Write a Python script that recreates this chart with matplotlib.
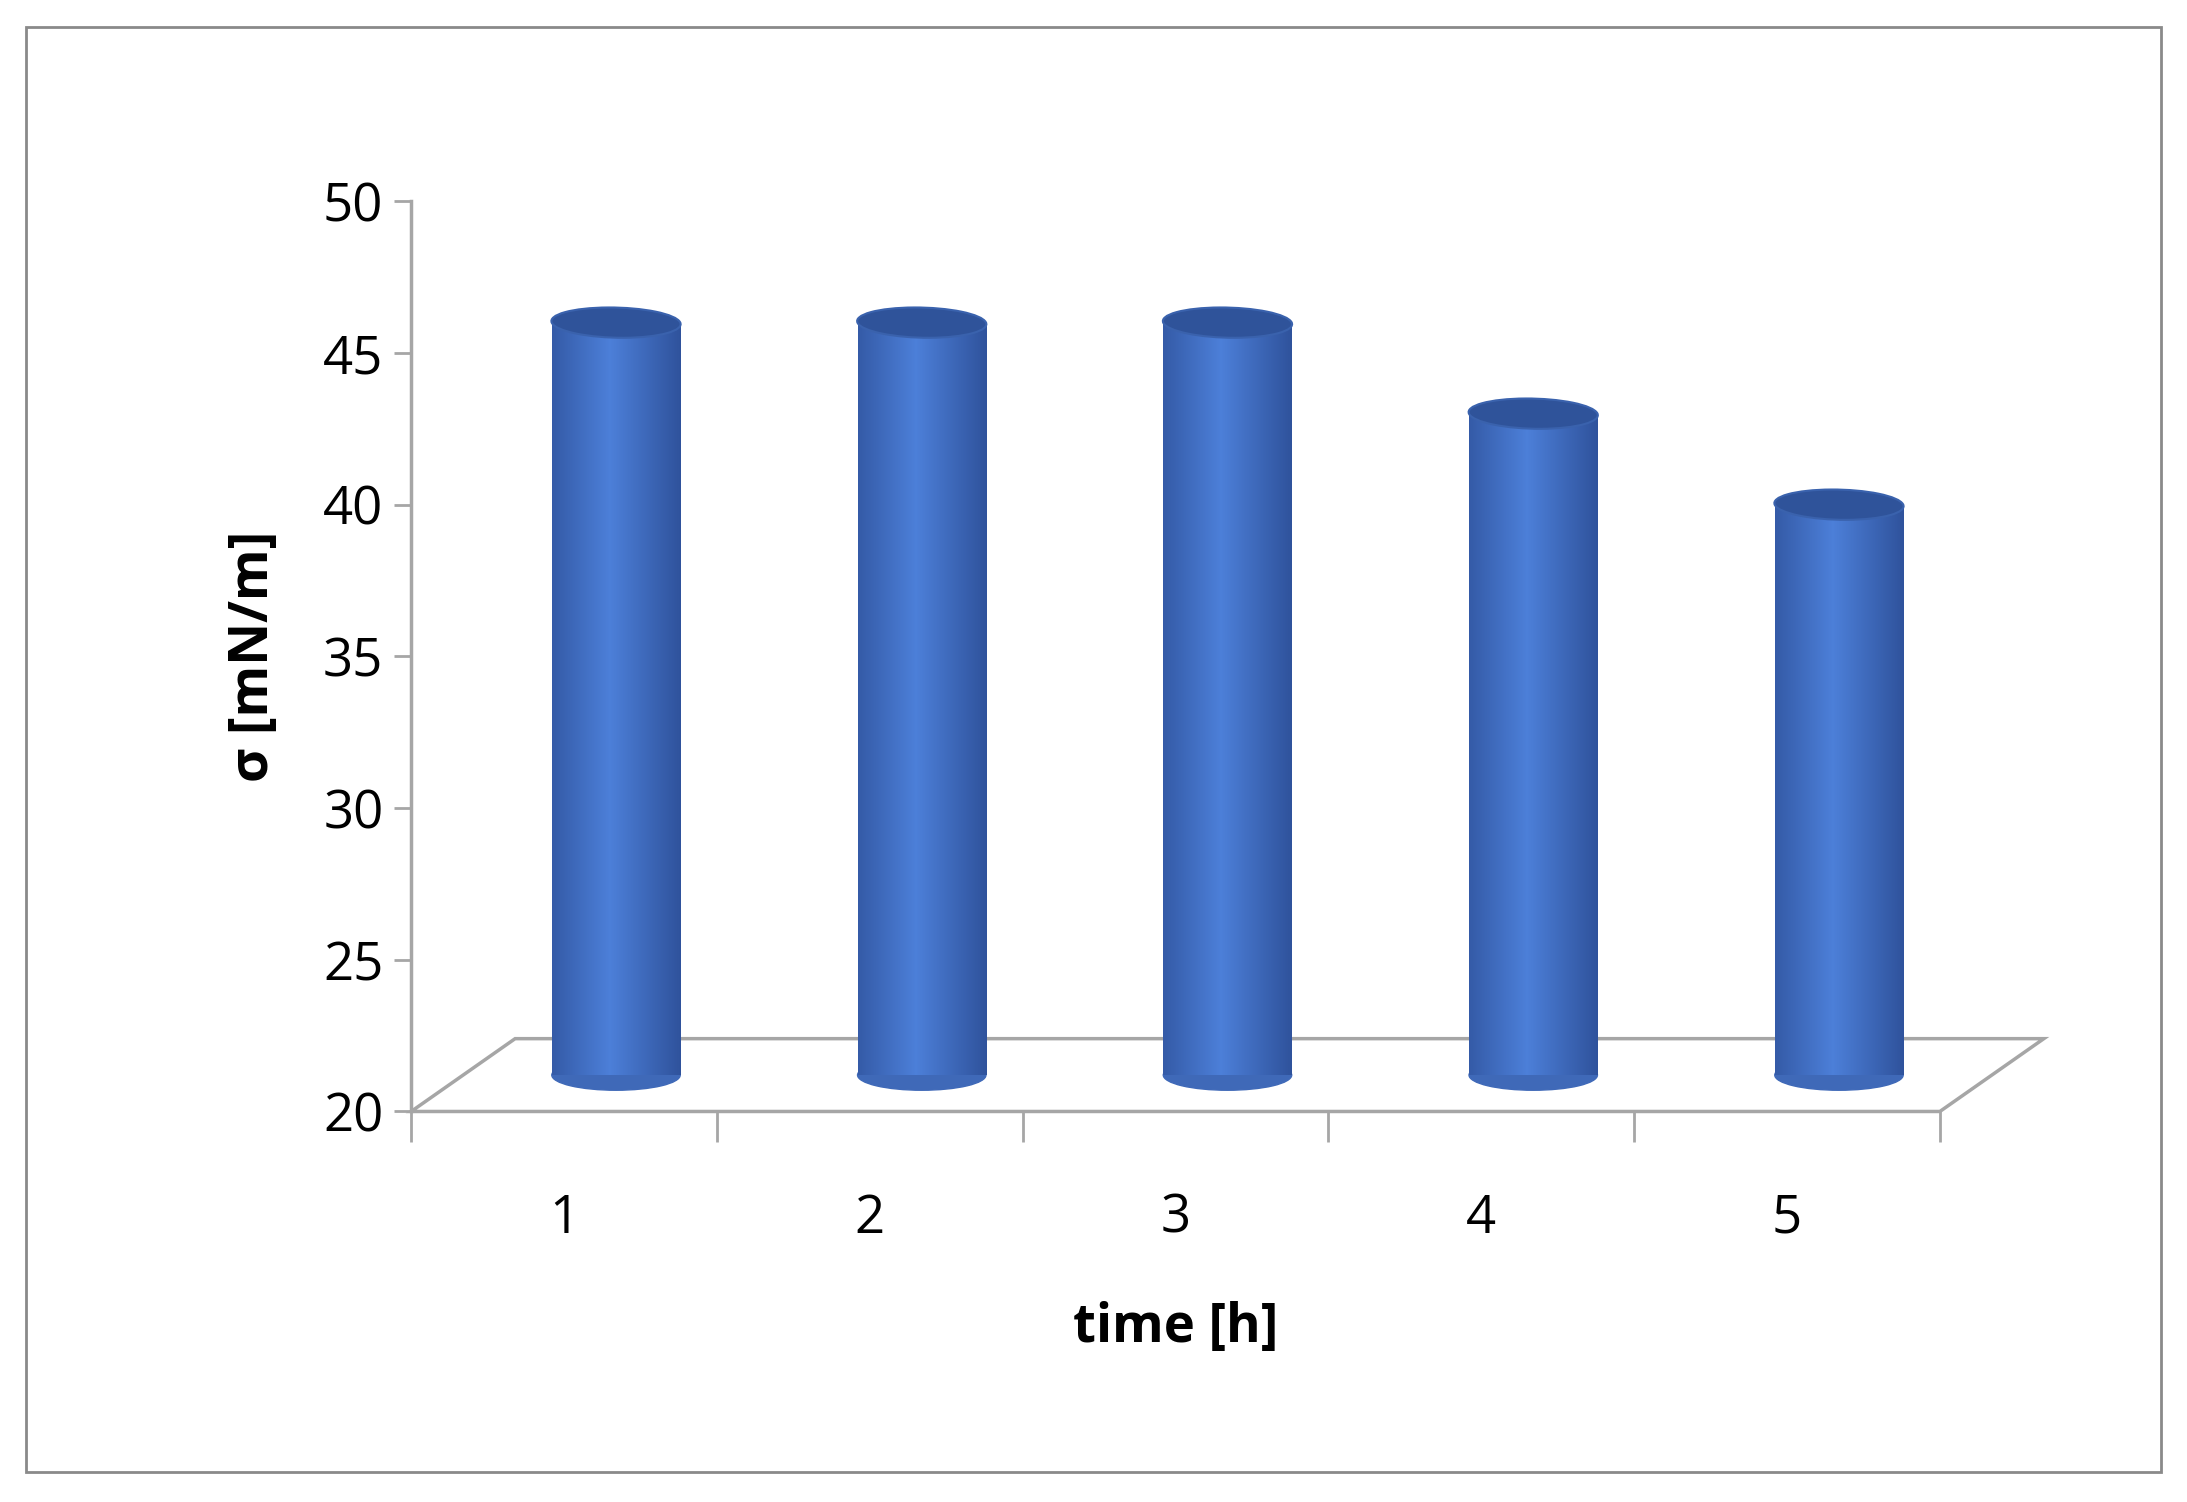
import matplotlib
matplotlib.use("Agg")
import matplotlib.pyplot as plt
import numpy as np
from matplotlib.patches import Ellipse, Polygon, Rectangle

plt.rcParams['font.family'] = ['Open Sans', 'DejaVu Sans']

categories = ["1", "2", "3", "4", "5"]
values = [46.0, 46.0, 46.0, 43.0, 40.0]
ylabel = "σ [mN/m]"
xlabel = "time [h]"

fig = plt.figure(figsize=(21.87, 15.02), dpi=100)
fig.patches.append(Rectangle((0.012, 0.02), 0.976, 0.962, transform=fig.transFigure,
                             fill=False, edgecolor="#8a8a8a", lw=2))
ax = fig.add_axes([0.188, 0.26, 0.699, 0.606])
ax.set_xlim(0.5, 5.5)
ax.set_ylim(20, 50)
for s in ax.spines.values():
    s.set_visible(False)
ax.patch.set_alpha(0)

DX, DY = 0.34, 2.4
gray = "#a6a6a6"
ax.add_patch(Polygon([(0.5, 20), (5.5, 20), (5.5 + DX, 20 + DY), (0.5 + DX, 20 + DY)],
                     closed=True, fill=False, edgecolor=gray, lw=2.5, clip_on=False))
ax.plot([0.5, 0.5], [20, 50], color=gray, lw=2.5, clip_on=False)
ax.set_yticks(range(20, 51, 5))
ax.tick_params(axis="y", length=12, width=2, color=gray, labelsize=38, pad=8)
ax.set_xticks(range(1, 6))
ax.set_xticklabels(categories)
ax.tick_params(axis="x", length=0, labelsize=38, pad=58)
ax.set_xticks(np.arange(0.5, 5.6, 1.0), minor=True)
ax.tick_params(axis="x", which="minor", length=22, width=2, color=gray)

x = np.arange(1, 6) + DX / 2
base = 20 + DY / 2
w = 0.42
eh = 1.0
bars = ax.bar(x, np.array(values) - base, bottom=base, width=w, color="#4472c4",
              zorder=3, clip_on=False)
grad = np.linspace(0, 1, 256)
prof = 1 - np.abs(grad - 0.45) * 1.6
c_dark = np.array([0.17, 0.30, 0.58]); c_light = np.array([0.30, 0.50, 0.85])
img = (c_dark[None, :] + (c_light - c_dark)[None, :] * np.clip(prof, 0, 1)[:, None])[None, :, :]
for xi, v, b in zip(x, values, bars):
    ax.add_patch(Ellipse((xi, base), w, eh, color="#3f69b8", zorder=2.9, clip_on=False))
    im = ax.imshow(img, extent=(xi - w / 2, xi + w / 2, base, v), aspect="auto", zorder=3.1)
    im.set_clip_path(b)
    ax.add_patch(Ellipse((xi, v), w, eh, angle=3, facecolor="#2f539a", edgecolor="#3a62ad",
                         lw=1.5, zorder=3.2, clip_on=False))
ax.set_xlim(0.5, 5.5)
ax.set_ylim(20, 50)
ax.set_ylabel(ylabel, fontsize=38, fontweight="bold", labelpad=30)
ax.set_xlabel(xlabel, fontsize=38, fontweight="bold", labelpad=40)
fig.savefig("out.png", dpi=100)
